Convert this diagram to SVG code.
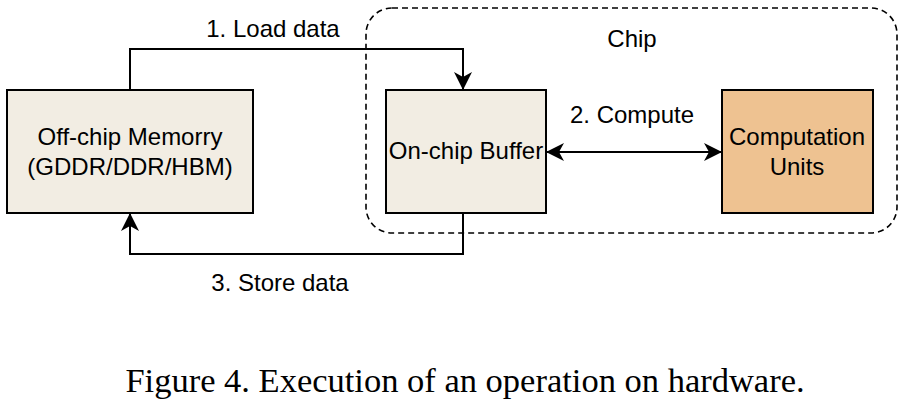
<svg xmlns="http://www.w3.org/2000/svg" width="908" height="402" viewBox="0 0 908 402">
<style>
.box{stroke:#000;stroke-width:2}
.mem{fill:#f2ede3}
.cu{fill:#eec291}
.t{font-family:"Liberation Sans",Arial,sans-serif;font-size:24px;fill:#000;text-anchor:middle}
.cap{font-family:"Liberation Serif","Times New Roman",serif;font-size:34.5px;fill:#000;text-anchor:middle}
.conn{fill:none;stroke:#000;stroke-width:2}
</style>
<defs>
<marker id="ah" viewBox="0 0 18 18" refX="17" refY="9" markerWidth="18" markerHeight="18" markerUnits="userSpaceOnUse" orient="auto-start-reverse">
<path d="M0,0 L18,9 L0,18 L5,9 Z" fill="#000"/>
</marker>
</defs>
<g id="chip">
<rect x="366" y="8" width="531" height="225" rx="26" ry="26" fill="none" stroke="#000" stroke-width="1.6" stroke-dasharray="6,4"/>
<text class="t" x="632" y="47">Chip</text>
</g>
<g id="offchip">
<rect class="box mem" x="7" y="90" width="246" height="123"/>
<text class="t" x="130" y="145">Off-chip Memorry</text>
<text class="t" x="130" y="175">(GDDR/DDR/HBM)</text>
</g>
<g id="buffer">
<rect class="box mem" x="386" y="90" width="160" height="123"/>
<text class="t" x="466" y="159">On-chip Buffer</text>
</g>
<g id="compute">
<rect class="box cu" x="722" y="90" width="151" height="123"/>
<text class="t" x="797" y="145">Computation</text>
<text class="t" x="797" y="175">Units</text>
</g>
<g id="connectors">
<path class="conn" d="M130,90 V49 H463 V89" marker-end="url(#ah)"/>
<path class="conn" d="M547,152 H721" marker-start="url(#ah)" marker-end="url(#ah)"/>
<path class="conn" d="M463,213 V254 H130 V214" marker-end="url(#ah)"/>
<text class="t" x="273" y="37">1. Load data</text>
<text class="t" x="632" y="123">2. Compute</text>
<text class="t" x="280" y="291">3. Store data</text>
</g>
<text class="cap" x="465" y="392">Figure 4. Execution of an operation on hardware.</text>
</svg>
